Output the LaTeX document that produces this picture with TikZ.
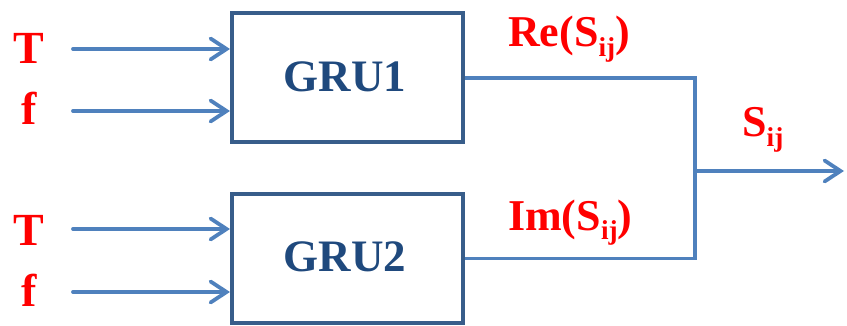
\documentclass[tikz,border=0pt]{standalone}
\usepackage{fontspec}
\setmainfont{Liberation Serif}
\usetikzlibrary{arrows.meta}
\definecolor{lineblue}{HTML}{4F81BD}
\definecolor{boxblue}{HTML}{385D8A}
\definecolor{txtblue}{HTML}{1F497D}
\newcommand{\sbij}{\raisebox{-0.22em}{\scalebox{0.62}{ij}}}
\tikzset{
  gru/.style={draw=boxblue, line width=4pt, minimum width=231pt, minimum height=129pt, inner sep=0pt},
  gtext/.style={text=txtblue, font=\fontsize{45}{48}\selectfont\bfseries, anchor=base, inner sep=0pt},
  inlbl/.style={text=red, font=\fontsize{46}{50}\selectfont\bfseries, anchor=base, inner sep=0pt},
  outlbl/.style={text=red, font=\fontsize{44}{46}\selectfont\bfseries, anchor=base west, inner sep=0pt},
  conn/.style={draw=lineblue, line width=3.8pt},
  arr/.style={conn, line cap=round, -{Straight Barb[length=16pt, width=21pt, line width=3.8pt, line cap=round]}},
}
\begin{document}
\begin{tikzpicture}[x=1pt,y=-1pt]
\useasboundingbox (0,0) rectangle (847,326);
\node[gru] (box1) at (347.5,78) {};
\node[gru] (box2) at (347.5,258.5) {};
\node[gtext] (g1) at (345,92) {GRU1};
\node[gtext] (g2) at (345,272) {GRU2};
\node[inlbl] (T1) at (29,64) {T};
\node[inlbl] (f1) at (29,125) {f};
\node[inlbl] (T2) at (29,245) {T};
\node[inlbl] (f2) at (29,306) {f};
\coordinate (a1) at (73,49);
\coordinate (a2) at (73,111);
\coordinate (a3) at (73,229);
\coordinate (a4) at (73,292);
\draw[arr] (a1) -- (a1 -| box1.west);
\draw[arr] (a2) -- (a2 -| box1.west);
\draw[arr] (a3) -- (a3 -| box2.west);
\draw[arr] (a4) -- (a4 -| box2.west);
\coordinate (jn) at (695,171);
\coordinate (oe) at (844,171);
\draw[conn] (box1.east) -| (jn);
\draw[conn] (box2.east) -| (jn);
\draw[arr] (jn) -- (oe);
\node[outlbl] (re) at (508,47) {Re(S\sbij)};
\node[outlbl] (im) at (508,230) {Im(S\sbij)};
\node[outlbl] (s) at (742,137) {S\sbij};
\end{tikzpicture}
\end{document}
